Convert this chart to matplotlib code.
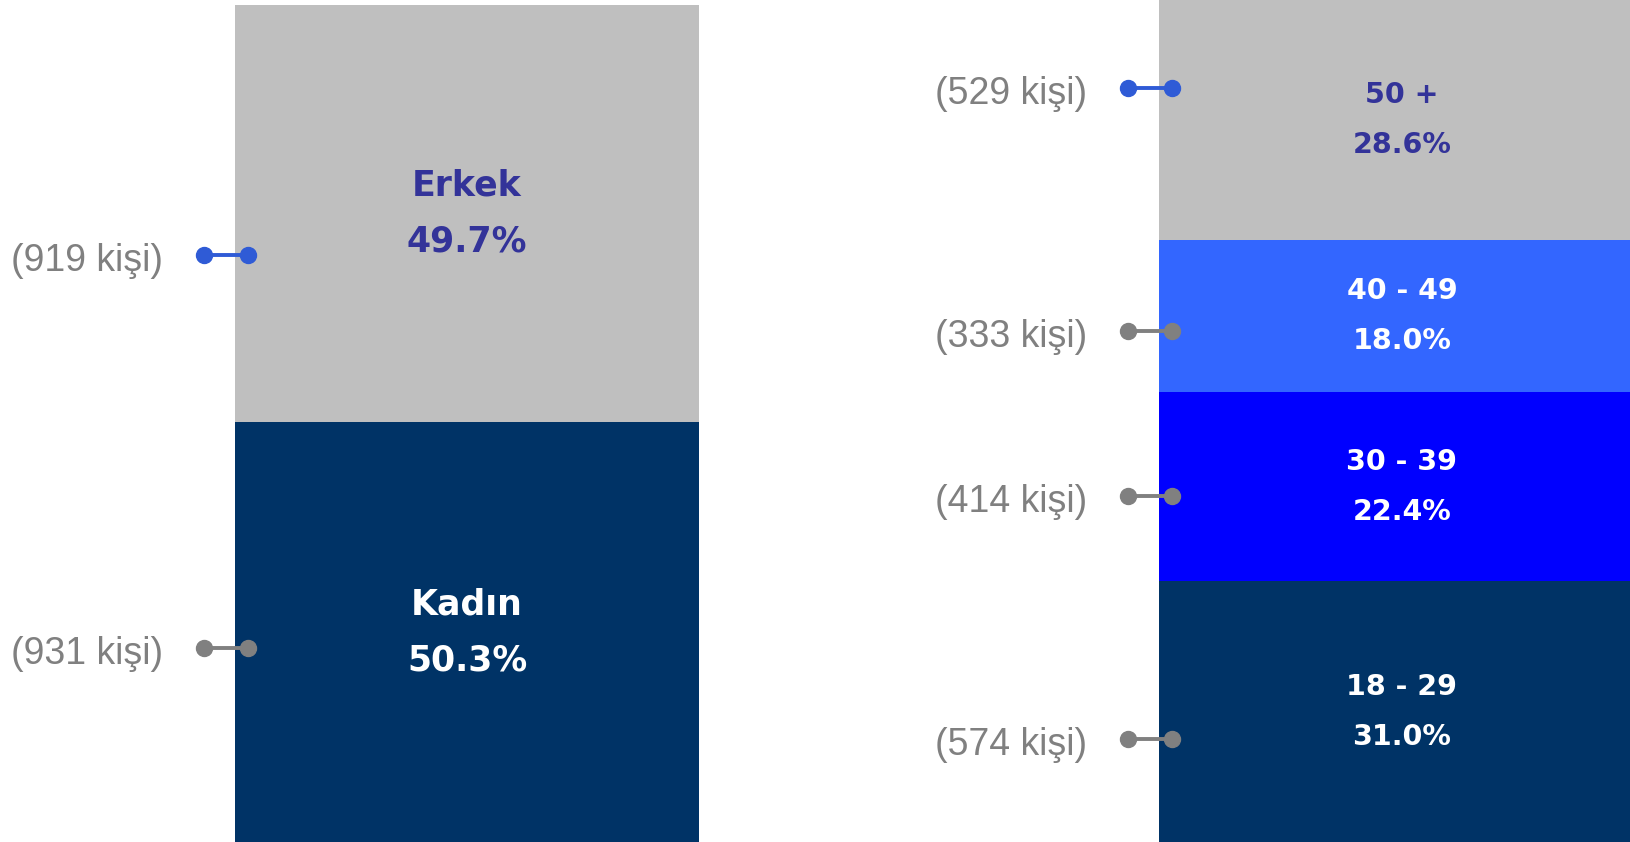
import matplotlib
matplotlib.use('Agg')
import matplotlib.pyplot as plt
import matplotlib.transforms as mtransforms

# Cinsiyet dağılımı (alttan üste)
gender_labels = ['Kadın', 'Erkek']
gender_pct = [50.3, 49.7]
gender_counts = [931, 919]

# Yaş dağılımı (alttan üste)
age_labels = ['18 - 29', '30 - 39', '40 - 49', '50 +']
age_pct = [31.0, 22.4, 18.0, 28.6]
age_counts = [574, 414, 333, 529]


def stacked_bar(fig, rect, labels, pct, counts, colors, text_colors,
                dot_colors, dot_y, fontsize, line_gap):
    ax = fig.add_axes(rect)
    ax.set_xlim(-0.5, 0.5)
    ax.set_ylim(0, 100)
    ax.axis('off')

    bottom = 0
    trans = mtransforms.blended_transform_factory(ax.transAxes, ax.transData)
    ax_w = rect[2] * 1631
    for i, (lab, p, n) in enumerate(zip(labels, pct, counts)):
        ax.bar(0, p, width=1, bottom=bottom, color=colors[i], linewidth=0)
        mid = bottom + p / 2
        for txt, dy in [(lab, line_gap), (f'{p:.1f}%', -line_gap)]:
            ax.text(0, mid, txt, ha='center', va='center', fontsize=fontsize,
                    fontweight='bold', color=text_colors[i],
                    family='DejaVu Sans',
                    transform=mtransforms.offset_copy(ax.transData, fig=fig,
                                                      y=dy, units='dots'))

        # bağlantı çizgisi + noktalar
        ax.plot([-31 / ax_w, 13 / ax_w], [dot_y[i], dot_y[i]],
                color=dot_colors[i], lw=2.8, marker='o', ms=11.5,
                clip_on=False, transform=trans)
        ax.text(0, dot_y[i], f'({n} kişi)', ha='right', va='center',
                fontsize=27, color='#808080',
                transform=mtransforms.offset_copy(trans, fig=fig, x=-72,
                                                  y=-6, units='dots'))
        bottom += p
    return ax


def main():
    plt.rcParams['font.family'] = ['Liberation Sans', 'DejaVu Sans']
    W, H = 1631, 842
    fig = plt.figure(figsize=(W / 100, H / 100), dpi=100)

    stacked_bar(fig, [235 / W, -2 / H, 464 / W, 839 / H],
                gender_labels, gender_pct, gender_counts,
                colors=['#003366', '#BFBFBF'],
                text_colors=['white', '#333399'],
                dot_colors=['#808080', '#2F5BD6'],
                dot_y=[23.4, 70.2], fontsize=25, line_gap=28)

    stacked_bar(fig, [1159 / W, -1 / H, 486 / W, 844 / H],
                age_labels, age_pct, age_counts,
                colors=['#003366', '#0000FF', '#3366FF', '#BFBFBF'],
                text_colors=['white', 'white', 'white', '#333399'],
                dot_colors=['#808080', '#808080', '#808080', '#2F5BD6'],
                dot_y=[12.3, 41.1, 60.7, 89.5], fontsize=20.5, line_gap=25)

    fig.savefig('out.png', dpi=100)


if __name__ == "__main__":
    main()
